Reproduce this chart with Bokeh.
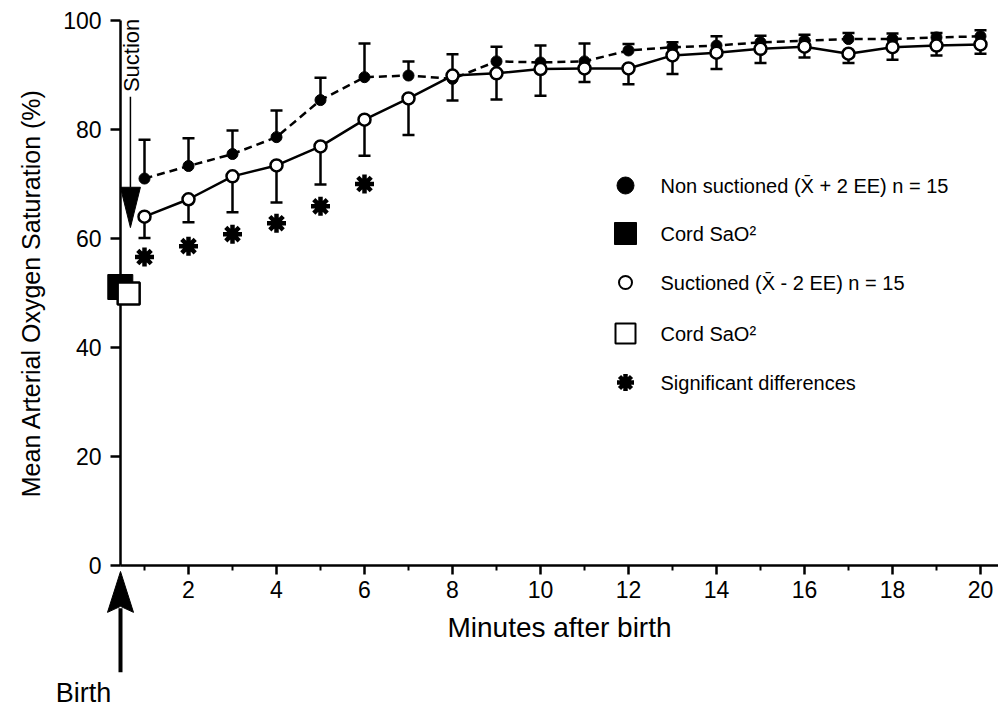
import math
from bokeh.plotting import figure
from bokeh.models import LinearAxis, FixedTicker, Range1d
from bokeh.core.properties import value
from bokeh.embed import file_html
from bokeh.resources import INLINE

# ---------------- data ----------------
minutes = list(range(1, 21))
nonsuct_mean = [71.0, 73.3, 75.5, 78.6, 85.4, 89.6, 89.9, 89.3, 92.5, 92.3,
                92.5, 94.5, 95.1, 95.4, 96.0, 96.3, 96.6, 96.6, 96.9, 97.1]
nonsuct_upper = [78.1, 78.4, 79.8, 83.5, 89.5, 95.8, 92.5, 93.8, 95.2, 95.4,
                 95.8, 95.7, 96.0, 97.1, 97.2, 97.4, 97.7, 97.6, 97.7, 98.2]
suct_mean = [64.0, 67.2, 71.4, 73.4, 76.9, 81.8, 85.7, 89.9, 90.3, 91.1,
             91.2, 91.2, 93.6, 94.1, 94.8, 95.2, 93.9, 95.1, 95.4, 95.6]
suct_lower = [60.1, 63.0, 64.8, 66.6, 69.9, 75.2, 79.0, 85.3, 85.5, 86.2,
              88.7, 88.3, 90.2, 91.1, 92.2, 93.2, 92.2, 92.8, 93.6, 93.9]
signif_minutes = [1, 2, 3, 4, 5, 6]
signif_y = [56.6, 58.6, 60.8, 62.8, 65.9, 70.0]
cord_x = [0.45, 0.64]          # non suctioned, suctioned
cord_sao2 = [51.1, 49.9]

x_ticks = [2, 4, 6, 8, 10, 12, 14, 16, 18, 20]
x_minor = [1, 3, 5, 7, 9, 11, 13, 15, 17, 19]
y_ticks = [0, 20, 40, 60, 80, 100]

legend_labels = ["Non suctioned (X\u0304 + 2 EE) n = 15", "Cord SaO\u00b2",
                 "Suctioned (X\u0304 - 2 EE) n = 15", "Cord SaO\u00b2",
                 "Significant differences"]

# ---------------- layout ----------------
W, H = 998, 707
PX_X0, PX_PER_MIN = 100.0, 44.0
PX_Y0, PX_PER_PCT = 565.0, 5.45


def dx(px):
    return px / PX_PER_MIN


def dy(px):
    return px / PX_PER_PCT


x_start, x_end = -PX_X0 / PX_PER_MIN, (W - PX_X0) / PX_PER_MIN
y_end, y_start = PX_Y0 / PX_PER_PCT, (PX_Y0 - H) / PX_PER_PCT
axis_x = (120 - PX_X0) / PX_PER_MIN
FONT = "Liberation Sans"

p = figure(width=W, height=H, x_range=Range1d(x_start, x_end),
           y_range=Range1d(y_start, y_end), x_axis_type=None, y_axis_type=None,
           toolbar_location=None, output_backend="svg", min_border=0)
p.outline_line_color = None
p.background_fill_color = "white"
p.border_fill_color = "white"

xaxis = LinearAxis(fixed_location=0, bounds=(axis_x, x_end),
                   ticker=FixedTicker(ticks=x_ticks, minor_ticks=x_minor),
                   axis_label="Minutes after birth")
yaxis = LinearAxis(fixed_location=axis_x, bounds=(0, 100),
                   ticker=FixedTicker(ticks=y_ticks, minor_ticks=[]),
                   axis_label="Mean Arterial Oxygen Saturation (%)")
for ax in (xaxis, yaxis):
    ax.axis_line_width = 2.5
    ax.axis_line_color = "black"
    ax.major_tick_line_width = 2.5
    ax.major_tick_line_color = "black"
    ax.minor_tick_line_width = 2
    ax.minor_tick_line_color = "black"
    ax.major_tick_in = 0
    ax.minor_tick_in = 0
    ax.major_label_text_font = FONT
    ax.major_label_text_font_size = "23px"
    ax.major_label_text_color = "black"
    ax.axis_label_text_font = FONT
    ax.axis_label_text_font_style = "normal"
    ax.axis_label_text_color = "black"
xaxis.major_tick_out = 9
xaxis.minor_tick_out = 5
xaxis.major_label_standoff = 6
xaxis.axis_label_text_font_size = "28px"
xaxis.axis_label_standoff = 11
yaxis.major_tick_out = 10
yaxis.minor_tick_out = 0
yaxis.major_label_standoff = 9
yaxis.axis_label_text_font_size = "25px"
yaxis.axis_label_standoff = 15
p.add_layout(xaxis, "below")
p.add_layout(yaxis, "left")

# ---------------- series ----------------
p.line(minutes, nonsuct_mean, line_color="black", line_width=2.5, line_dash="8 5")
p.line(minutes, suct_mean, line_color="black", line_width=2.5)

p.segment(x0=minutes, y0=nonsuct_mean, x1=minutes, y1=nonsuct_upper,
          line_color="black", line_width=2.5)
p.scatter(minutes, nonsuct_upper, marker="dash", size=12, line_color="black", line_width=2.5)
p.segment(x0=minutes, y0=suct_mean, x1=minutes, y1=suct_lower,
          line_color="black", line_width=2.5)
p.scatter(minutes, suct_lower, marker="dash", size=12, line_color="black", line_width=2.5)

p.scatter(minutes, nonsuct_mean, marker="circle", size=11, fill_color="black", line_color="black")
p.scatter(minutes, suct_mean, marker="circle", size=12, fill_color="white",
          line_color="black", line_width=2.5)

p.scatter(signif_minutes, signif_y, marker="asterisk", size=19, line_color="black", line_width=4.5)
p.scatter(signif_minutes, signif_y, marker="circle", size=10, fill_color="black", line_color="black")

p.scatter([cord_x[0]], [cord_sao2[0]], marker="square", size=25, fill_color="black",
          line_color="black", level="overlay")
p.scatter([cord_x[1]], [cord_sao2[1]], marker="square", size=22, fill_color="white",
          line_color="black", line_width=2.5, level="overlay")

# ---------------- suction arrow ----------------
suction_x = 0.68
sx_top, sx_base, sx_tip = 86.0, 69.4, 62.0
p.segment(x0=[suction_x], y0=[sx_top], x1=[suction_x], y1=[sx_base],
          line_color="black", line_width=1.5)
hw = dx(10)
p.patch([suction_x - hw, suction_x + hw, suction_x],
        [sx_base, sx_base, sx_tip], fill_color="black", line_color="black")
p.text(x=[suction_x + dx(1)], y=[93.6], text=["Suction"], angle=math.pi / 2,
       text_align="center", text_baseline="middle", text_font=value(FONT),
       text_font_size="22px", text_color="black")

# ---------------- birth arrow ----------------
b_tip, b_base, b_end = -1.1, -8.6, -19.6
bw = dx(13)
p.segment(x0=[axis_x], y0=[b_base + dy(4)], x1=[axis_x], y1=[b_end],
          line_color="black", line_width=4)
p.patch([axis_x, axis_x + bw, axis_x, axis_x - bw],
        [b_tip, b_base, b_base + dy(6), b_base], fill_color="black", line_color="black")
p.text(x=[axis_x - dx(37)], y=[(PX_Y0 - 692) / PX_PER_PCT], text=["Birth"],
       text_align="center", text_baseline="middle", text_font=value(FONT),
       text_font_size="27px", text_color="black")

# ---------------- legend ----------------
lx = (625 - PX_X0) / PX_PER_MIN
ltx = lx + dx(35)
rows = [(PX_Y0 - py) / PX_PER_PCT for py in (185, 233, 282, 333, 382)]
p.scatter([lx], [rows[0]], marker="circle", size=17, fill_color="black", line_color="black")
p.scatter([lx], [rows[1]], marker="square", size=22, fill_color="black", line_color="black")
p.scatter([lx], [rows[2]], marker="circle", size=13, fill_color="white",
          line_color="black", line_width=2)
p.scatter([lx], [rows[3]], marker="square", size=20, fill_color="white",
          line_color="black", line_width=2)
p.scatter([lx], [rows[4]], marker="asterisk", size=17, line_color="black", line_width=4.5)
p.scatter([lx], [rows[4]], marker="circle", size=8, fill_color="black", line_color="black")
p.text(x=[ltx] * 5, y=rows, text=legend_labels, text_align="left",
       text_baseline="middle", text_font=value(FONT), text_font_size="20px",
       text_color="black")

open("out.html", "w").write(file_html(p, INLINE))
